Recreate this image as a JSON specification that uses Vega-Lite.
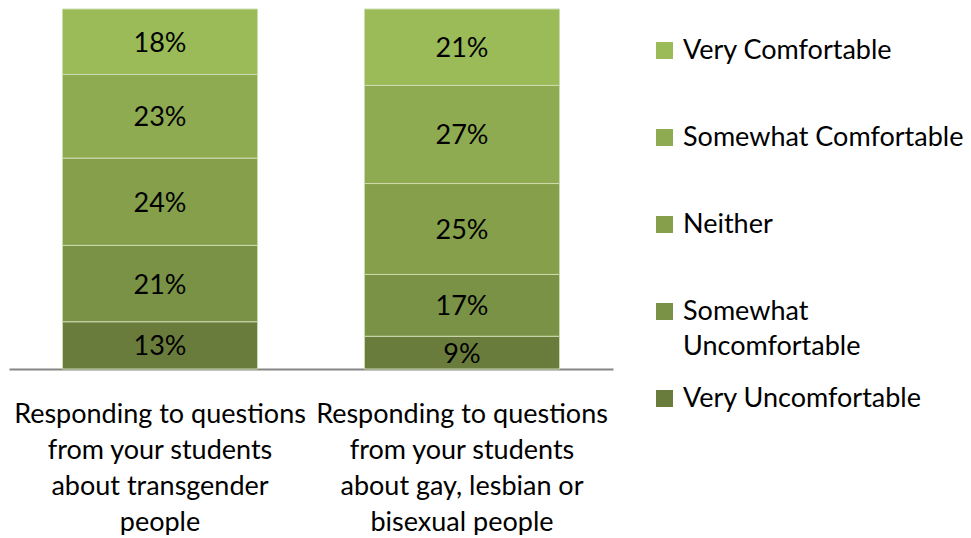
{
  "$schema": "https://vega.github.io/schema/vega-lite/v6.json",
  "width": 604,
  "height": 360,
  "padding": {"left": 9, "top": 8, "right": 0, "bottom": 0},
  "autosize": {"type": "pad"},
  "config": {"view": {"stroke": null}, "font": "Lato", "style": {"guide-label": {"lineHeight": 35}}},
  "data": {
    "values": [
      {"question": "Responding to questions\nfrom your students\nabout transgender\npeople", "level": "Very Uncomfortable", "rank": 1, "share": 0.13},
      {"question": "Responding to questions\nfrom your students\nabout transgender\npeople", "level": "Somewhat Uncomfortable", "rank": 2, "share": 0.21},
      {"question": "Responding to questions\nfrom your students\nabout transgender\npeople", "level": "Neither", "rank": 3, "share": 0.24},
      {"question": "Responding to questions\nfrom your students\nabout transgender\npeople", "level": "Somewhat Comfortable", "rank": 4, "share": 0.23},
      {"question": "Responding to questions\nfrom your students\nabout transgender\npeople", "level": "Very Comfortable", "rank": 5, "share": 0.18},
      {"question": "Responding to questions\nfrom your students\nabout gay, lesbian or\nbisexual people", "level": "Very Uncomfortable", "rank": 1, "share": 0.09},
      {"question": "Responding to questions\nfrom your students\nabout gay, lesbian or\nbisexual people", "level": "Somewhat Uncomfortable", "rank": 2, "share": 0.17},
      {"question": "Responding to questions\nfrom your students\nabout gay, lesbian or\nbisexual people", "level": "Neither", "rank": 3, "share": 0.25},
      {"question": "Responding to questions\nfrom your students\nabout gay, lesbian or\nbisexual people", "level": "Somewhat Comfortable", "rank": 4, "share": 0.27},
      {"question": "Responding to questions\nfrom your students\nabout gay, lesbian or\nbisexual people", "level": "Very Comfortable", "rank": 5, "share": 0.21}
    ]
  },
  "transform": [
    {"stack": "share", "groupby": ["question"], "sort": [{"field": "rank", "order": "ascending"}], "offset": "normalize", "as": ["y0", "y1"]}
  ],
  "encoding": {
    "x": {
      "field": "question",
      "type": "nominal",
      "sort": null,
      "scale": {"paddingInner": 0.354, "paddingOuter": 0.177},
      "axis": {
        "title": null,
        "labelAngle": 0,
        "labelAlign": "center",
        "labelExpr": "split(datum.value, '\\n')",
        "labelFontSize": 27,
        "labelColor": "#000000",
        "labelLineHeight": 36,
        "labelPadding": 32,
        "labelLimit": 0,
        "ticks": false,
        "grid": false,
        "domainColor": "#868686",
        "domainWidth": 2
      }
    }
  },
  "layer": [
    {
      "mark": {"type": "bar", "stroke": "#cddbb0", "strokeWidth": 1},
      "encoding": {
        "y": {"field": "y0", "type": "quantitative", "scale": {"domain": [0, 1]}, "axis": null},
        "y2": {"field": "y1"},
        "color": {
          "field": "level",
          "type": "nominal",
          "scale": {
            "domain": ["Very Comfortable", "Somewhat Comfortable", "Neither", "Somewhat Uncomfortable", "Very Uncomfortable"],
            "range": ["#9bbb59", "#8fab51", "#859f4b", "#7a9245", "#6a7c3b"]
          },
          "legend": {
            "title": null,
            "orient": "none",
            "legendX": 642,
            "legendY": 28,
            "symbolType": "square",
            "symbolSize": 289,
            "symbolStrokeWidth": 0,
            "labelFontSize": 27,
            "labelColor": "#000000",
            "labelOffset": 5,
            "labelLimit": 400,
            "labelExpr": "datum.value == 'Somewhat Uncomfortable' ? ['Somewhat', 'Uncomfortable'] : datum.value",
            "gridAlign": "all",
            "rowPadding": 24
          }
        }
      }
    },
    {
      "transform": [{"fold": ["y0", "y1"], "as": ["edge", "pos"]}],
      "mark": {"type": "text", "fontSize": 27, "color": "#000000", "dy": 2},
      "encoding": {
        "y": {"aggregate": "mean", "field": "pos", "type": "quantitative"},
        "text": {"field": "share", "type": "quantitative", "format": ".0%"},
        "detail": {"field": "level"}
      }
    }
  ]
}
